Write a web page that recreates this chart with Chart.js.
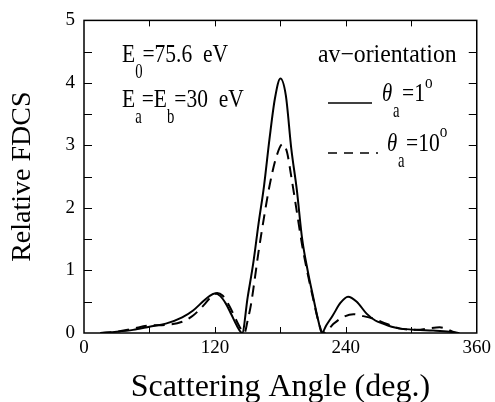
<!DOCTYPE html>
<html>
<head>
<meta charset="utf-8">
<script src="https://cdn.jsdelivr.net/npm/chart.js@4.4.1/dist/chart.umd.min.js"></script>
<style>
  html, body { margin: 0; padding: 0; background: #fff; }
  #wrap { width: 495px; height: 402px; }
</style>
</head>
<body>
<div id="wrap"><canvas id="c"></canvas></div>
<script>
// theta_a = 1 deg (solid)
const anglesA = [15, 30, 45, 60, 75, 90, 100, 110, 115, 120, 125, 130, 135, 140, 145,
  150, 155, 160, 165, 170, 175, 180, 185, 190, 195, 200, 205, 210, 215, 218,
  222, 228, 235, 242, 250, 259, 267, 274, 282, 290, 305, 320, 335, 341];
const fdcsA = [0, 0.02, 0.05, 0.1, 0.15, 0.25, 0.36, 0.52, 0.59, 0.63, 0.59, 0.47, 0.3, 0.12, 0,
  0.57, 1.1, 1.75, 2.35, 3.1, 3.75, 4.07, 3.8, 2.95, 2.3, 1.5, 1.0, 0.58, 0.18, 0,
  0.12, 0.28, 0.48, 0.58, 0.5, 0.31, 0.2, 0.15, 0.1, 0.07, 0.05, 0.04, 0.02, 0];

// theta_a = 10 deg (dashed)
const anglesB = [15, 30, 45, 60, 75, 90, 100, 110, 116, 122, 127, 132, 137, 142, 147,
  150, 153, 156, 160, 165, 170, 176, 182, 186, 190, 195, 200, 205, 210, 215, 219,
  224, 229, 236, 247, 256, 265, 277, 290, 305, 318, 326, 333, 338, 344];
const fdcsB = [0, 0.02, 0.07, 0.12, 0.13, 0.18, 0.28, 0.45, 0.57, 0.64, 0.6, 0.47, 0.3, 0.12, 0,
  0.2, 0.45, 0.8, 1.3, 1.85, 2.35, 2.8, 3.02, 2.9, 2.5, 1.95, 1.4, 0.95, 0.55, 0.18, 0,
  0.06, 0.15, 0.24, 0.3, 0.27, 0.23, 0.15, 0.07, 0.05, 0.08, 0.09, 0.06, 0.02, 0];

const xTickLabels = [0, 120, 240, 360];
const yTickLabels = [0, 1, 2, 3, 4, 5];

const FONT = "'Liberation Serif', serif";
const pts = (xs, ys) => xs.map((x, i) => ({ x, y: ys[i] }));

// inward ticks on all four sides + frame
const frameTicks = {
  id: 'frameTicks',
  afterDraw(chart) {
    const { ctx, chartArea: a, scales: { x, y } } = chart;
    ctx.save();
    ctx.strokeStyle = '#000';
    ctx.lineWidth = 1;
    for (let v = 60; v < 360; v += 60) {
      const px = Math.round(x.getPixelForValue(v)) + 0.5;
      ctx.beginPath();
      ctx.moveTo(px, a.top); ctx.lineTo(px, a.top + 6);
      ctx.moveTo(px, a.bottom); ctx.lineTo(px, a.bottom - 6);
      ctx.stroke();
    }
    for (let v = 0.5; v < 5; v += 0.5) {
      const py = Math.round(y.getPixelForValue(v)) + 0.5;
      ctx.beginPath();
      ctx.moveTo(a.left, py); ctx.lineTo(a.left + 8, py);
      ctx.moveTo(a.right, py); ctx.lineTo(a.right - 8, py);
      ctx.stroke();
    }
    ctx.lineWidth = 1.5;
    ctx.strokeRect(a.left, a.top, a.right - a.left, a.bottom - a.top);
    ctx.restore();
  }
};

// in-plot annotations with sub/superscripts
const notes = {
  id: 'notes',
  afterDraw(chart) {
    const { ctx } = chart;
    ctx.save();
    ctx.fillStyle = '#000';
    ctx.textBaseline = 'alphabetic';
    // narrow tall lettering like the original plot font
    const put = (s, x, y, size, sx = 0.86, style = '') => {
      ctx.save();
      ctx.font = style + size + 'px ' + FONT;
      ctx.translate(x, y);
      ctx.scale(sx, 1);
      ctx.fillText(s, 0, 0);
      const w = ctx.measureText(s).width * sx;
      ctx.restore();
      return x + w;
    };
    let p;
    p = put('E', 122, 62, 25);
    p = put('0', p, 78, 21, 0.7);
    put('=75.6  eV', p, 62, 25);

    p = put('E', 122, 107, 25);
    p = put('a', p, 123, 21, 0.7);
    p = put('=E', p, 107, 25);
    p = put('b', p, 123, 21, 0.7);
    put('=30  eV', p, 107, 25);

    put('av\u2212orientation', 318, 62, 25, 0.95);

    ctx.strokeStyle = '#000';
    ctx.lineWidth = 1.5;
    ctx.beginPath();
    ctx.moveTo(328, 103); ctx.lineTo(372, 103);
    ctx.stroke();
    ctx.setLineDash([9, 7]);
    ctx.beginPath();
    ctx.moveTo(328, 153); ctx.lineTo(378, 153);
    ctx.stroke();
    ctx.setLineDash([]);

    put('\u03b8', 382, 101, 26, 0.8, 'italic ');
    put('a', 393, 117, 21, 0.7);
    p = put('=1', 402, 101, 25);
    put('o', p, 88, 19, 0.8);

    put('\u03b8', 387, 151, 26, 0.8, 'italic ');
    put('a', 398, 167, 21, 0.7);
    p = put('=10', 406, 151, 25);
    put('o', p, 137, 19, 0.8);
    ctx.restore();
  }
};

new Chart(document.getElementById('c'), {
  type: 'line',
  data: {
    datasets: [
      {
        label: '\u03b8a=1\u00b0',
        data: pts(anglesA, fdcsA),
        borderColor: '#000',
        borderWidth: 2,
        pointRadius: 0,
        cubicInterpolationMode: 'monotone',
        fill: false,
      },
      {
        label: '\u03b8a=10\u00b0',
        data: pts(anglesB, fdcsB),
        borderColor: '#000',
        borderWidth: 2,
        borderDash: [11, 7],
        pointRadius: 0,
        cubicInterpolationMode: 'monotone',
        fill: false,
      },
    ],
  },
  options: {
    responsive: true,
    maintainAspectRatio: false,
    animation: false,
    layout: { padding: { top: 19, right: 18, left: 0, bottom: 0 } },
    plugins: { legend: { display: false }, tooltip: { enabled: false } },
    scales: {
      x: {
        type: 'linear',
        min: 0,
        max: 360,
        border: { display: false },
        grid: { display: false, drawTicks: false },
        afterBuildTicks(scale) {
          scale.ticks = xTickLabels.map((v) => ({ value: v }));
        },
        afterFit(scale) { scale.height = 69; },
        ticks: {
          color: '#000',
          padding: 4,
          maxRotation: 0,
          font: { family: FONT, size: 19 },
        },
        title: {
          display: true,
          text: 'Scattering Angle (deg.)',
          color: '#000',
          font: { family: FONT, size: 32, lineHeight: 0.9 },
          padding: { top: 8, bottom: 0 },
        },
      },
      y: {
        min: 0,
        max: 5,
        border: { display: false },
        grid: { display: false, drawTicks: false },
        afterBuildTicks(scale) {
          scale.ticks = yTickLabels.map((v) => ({ value: v }));
        },
        afterFit(scale) { scale.width = 84; },
        ticks: {
          color: '#000',
          padding: 9,
          font: { family: FONT, size: 19 },
        },
        title: {
          display: true,
          text: 'Relative FDCS',
          color: '#000',
          font: { family: FONT, size: 28 },
          padding: { top: 6, bottom: 0 },
        },
      },
    },
  },
  plugins: [frameTicks, notes],
});
</script>
</body>
</html>
